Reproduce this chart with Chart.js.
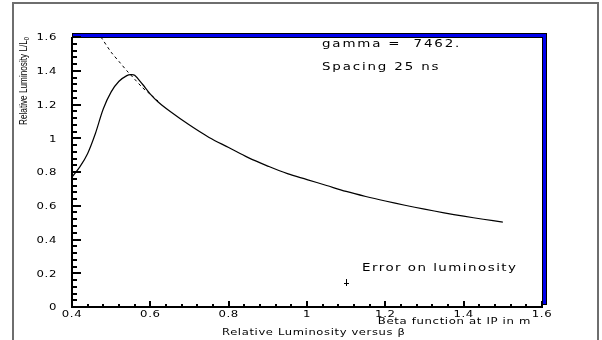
<!DOCTYPE html>
<html>
<head>
<meta charset="utf-8">
<script src="https://cdn.jsdelivr.net/npm/chart.js@4.4.1/dist/chart.umd.min.js"></script>
<style>
  html, body { margin: 0; padding: 0; background: #fff; }
  canvas { display: block; }
</style>
</head>
<body>
<canvas id="lumiChart" width="602" height="340"></canvas>
<script>
// beta at IP (m) and relative luminosity
const betaSolid = [0.40, 0.42, 0.44, 0.46, 0.48, 0.50, 0.52, 0.54, 0.55, 0.56, 0.58, 0.60, 0.62, 0.65, 0.70, 0.75,
                   0.80, 0.85, 0.90, 0.95, 1.00, 1.05, 1.10, 1.15, 1.20, 1.25, 1.30, 1.35, 1.40, 1.45, 1.50];
const lumiSolid = [0.77, 0.83, 0.91, 1.03, 1.175, 1.275, 1.338, 1.371, 1.377, 1.373, 1.32, 1.262, 1.215, 1.16, 1.078, 1.005,
                   0.945, 0.885, 0.835, 0.79, 0.755, 0.72, 0.685, 0.655, 0.628, 0.603, 0.58, 0.558, 0.538, 0.52, 0.503];

// dashed curve (no hourglass), only the part before it joins the solid one
const betaDashed = [0.474, 0.50, 0.52, 0.54, 0.56, 0.58, 0.60, 0.62];
const lumiDashed = [1.60, 1.51, 1.455, 1.40, 1.35, 1.30, 1.26, 1.22];

// the single "error on luminosity" marker
const errBeta = [1.1];
const errLumi = [0.145];
const errLow = [0.125];
const errHigh = [0.165];

const xTicks = [0.4, 0.6, 0.8, 1, 1.2, 1.4, 1.6];
const yTicks = [0, 0.2, 0.4, 0.6, 0.8, 1, 1.2, 1.4, 1.6];
const xMin = 0.4, xMax = 1.6;
const yMin = 0, yMax = 1.6;
const minorStep = 0.04;

const HIGZ_FONT = '"DejaVu Sans", sans-serif';
const NARROW_FONT = '"Liberation Sans", Arial, sans-serif';

function toPoints(xs, ys) {
    return xs.map((x, i) => ({ x: x, y: ys[i] }));
}

// wide stretched text, a bit like the old PAW font
function wideText(ctx, text, x, y, size, stretch, align, spacing) {
    ctx.save();
    ctx.font = size + 'px ' + HIGZ_FONT;
    ctx.letterSpacing = (spacing || 0) + 'px';
    ctx.fillStyle = '#000';
    ctx.textBaseline = 'middle';
    ctx.translate(x, y);
    ctx.scale(stretch, 1);
    ctx.textAlign = align || 'left';
    ctx.fillText(text, 0, 0);
    ctx.restore();
}

const framePlugin = {
    id: 'frame',
    beforeDraw(chart) {
        const ctx = chart.ctx;
        const a = chart.chartArea;
        ctx.save();
        ctx.fillStyle = '#fff';
        ctx.fillRect(0, 0, chart.width, chart.height);

        // outer grey page frame (open at the bottom)
        ctx.strokeStyle = '#6e6e6e';
        ctx.lineWidth = 2;
        ctx.beginPath();
        ctx.moveTo(13, 340);
        ctx.lineTo(13, 3);
        ctx.lineTo(598, 3);
        ctx.lineTo(598, 340);
        ctx.stroke();

        // blue shadow box behind the plot
        ctx.lineWidth = 1;
        ctx.strokeStyle = '#000';
        ctx.fillStyle = '#0000ee';
        ctx.fillRect(a.left, a.top - 4, a.right - a.left + 5, a.bottom - a.top + 2);
        ctx.strokeRect(a.left + 0.5, a.top - 3.5, a.right - a.left + 4, a.bottom - a.top + 1);

        ctx.fillStyle = '#fff';
        ctx.fillRect(a.left, a.top, a.right - a.left, a.bottom - a.top);
        ctx.strokeRect(a.left + 0.5, a.top + 0.5, a.right - a.left, a.bottom - a.top);
        ctx.restore();
    },
    afterDraw(chart) {
        const ctx = chart.ctx;
        const xs = chart.scales.x;
        const ys = chart.scales.y;
        const left = Math.round(xs.getPixelForValue(xMin));
        const right = Math.round(xs.getPixelForValue(xMax));
        const bottom = Math.round(ys.getPixelForValue(yMin));
        const top = Math.round(ys.getPixelForValue(yMax));
        ctx.save();
        ctx.fillStyle = '#000';

        // axis lines, 2px like the original
        ctx.fillRect(left - 1, top, 2, bottom - top + 1);
        ctx.fillRect(left - 1, bottom - 1, right - left + 1, 2);

        // ticks: y ticks pointing inside, x ticks pointing up
        const ny = Math.round((yMax - yMin) / minorStep);
        const nx = Math.round((xMax - xMin) / minorStep);
        for (let i = 0; i <= ny; i++) {
            const py = Math.round(ys.getPixelForValue(yMin + i * minorStep));
            const major = i % 5 === 0;
            ctx.fillRect(left, py - 1, major ? 9 : 5, 2);
        }
        for (let i = 0; i <= nx; i++) {
            const px = Math.round(xs.getPixelForValue(xMin + i * minorStep));
            const len = (i % 5 === 0) ? 6 : 3;
            ctx.fillRect(px - 1, bottom - len, 2, len);
        }

        // tick labels
        yTicks.forEach(v => {
            wideText(ctx, String(v), 57, ys.getPixelForValue(v) + 1, 9, 1.3, 'right', 0.5);
        });
        xTicks.forEach(v => {
            wideText(ctx, String(v), xs.getPixelForValue(v), 315, 9, 1.3, 'center', 0.5);
        });

        // error marker
        errBeta.forEach((b, i) => {
            const px = Math.round(xs.getPixelForValue(b));
            const py = Math.round(ys.getPixelForValue(errLumi[i]));
            const hi = Math.round(ys.getPixelForValue(errHigh[i]));
            const lo = Math.round(ys.getPixelForValue(errLow[i]));
            ctx.fillRect(px, hi, 1, lo - hi);
            ctx.fillRect(px - 2, py, 5, 1);
        });

        // texts inside the plot
        wideText(ctx, 'gamma =  7462.', 322, 44, 11, 1.22, 'left', 1.5);
        wideText(ctx, 'Spacing 25 ns', 322, 67, 11, 1.22, 'left', 1.5);
        wideText(ctx, 'Error on luminosity', 362, 268, 11, 1.22, 'left', 1.2);

        // axis titles
        wideText(ctx, 'Beta function at IP in m', 531, 322, 9, 1.3, 'right', 0.5);
        wideText(ctx, 'Relative Luminosity versus \u03b2', 222, 333, 9, 1.28, 'left', 0.5);

        // rotated y title with subscript, squeezed to look narrow
        const squeeze = 0.82;
        ctx.font = '10px ' + NARROW_FONT;
        const main = 'Relative Luminosity L/L';
        const w = ctx.measureText(main).width;
        ctx.font = '7px ' + NARROW_FONT;
        const ws = ctx.measureText('0').width;
        ctx.translate(24, 37 + (w + ws) * squeeze);
        ctx.rotate(-Math.PI / 2);
        ctx.scale(squeeze, 1);
        ctx.textBaseline = 'middle';
        ctx.textAlign = 'left';
        ctx.font = '10px ' + NARROW_FONT;
        ctx.fillText(main, 0, 0);
        ctx.font = '7px ' + NARROW_FONT;
        ctx.fillText('0', w, 3);
        ctx.restore();
    }
};

const ctx = document.getElementById('lumiChart').getContext('2d');
const lumiChart = new Chart(ctx, {
    type: 'scatter',
    data: {
        datasets: [
            {
                label: 'dashed',
                data: toPoints(betaDashed, lumiDashed),
                showLine: true,
                borderColor: '#000',
                borderWidth: 1,
                borderDash: [3, 3],
                pointRadius: 0,
                tension: 0.3
            },
            {
                label: 'solid',
                data: toPoints(betaSolid, lumiSolid),
                showLine: true,
                borderColor: '#000',
                borderWidth: 1.2,
                pointRadius: 0,
                tension: 0.35
            }
        ]
    },
    options: {
        responsive: false,
        animation: false,
        layout: {
            padding: { left: 72, right: 60, top: 37, bottom: 33 }
        },
        plugins: {
            legend: { display: false },
            tooltip: { enabled: false }
        },
        scales: {
            x: { type: 'linear', min: xMin, max: xMax, display: false },
            y: { type: 'linear', min: yMin, max: yMax, display: false }
        }
    },
    plugins: [framePlugin]
});
</script>
</body>
</html>
